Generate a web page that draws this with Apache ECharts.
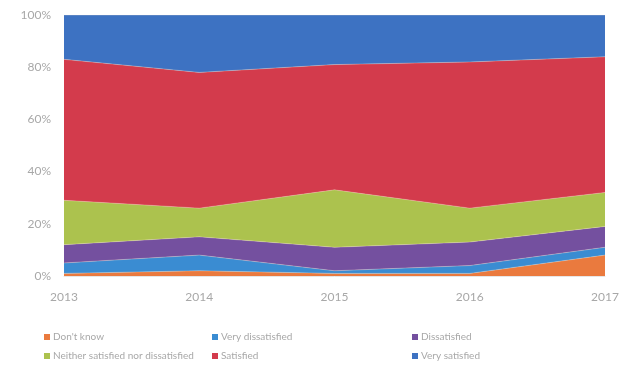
<!DOCTYPE html>
<html>
<head>
<meta charset="utf-8">
<script src="https://cdn.jsdelivr.net/npm/echarts@6/dist/echarts.min.js"></script>
<style>
  html, body { margin: 0; padding: 0; background: #fff; }
  #chart { width: 636px; height: 365px; }
</style>
</head>
<body>
<div id="chart"></div>
<script>
// Survey years
const years = ['2013', '2014', '2015', '2016', '2017'];

// Share of responses (%) per answer, stacked bottom to top
const dontKnow         = [1, 2, 1, 1, 8];
const veryDissatisfied = [4, 6, 1, 3, 3];
const dissatisfied     = [7, 7, 9, 9, 8];
const neither          = [17, 11, 22, 13, 13];
const satisfied        = [54, 52, 48, 56, 52];
const verySatisfied    = [17, 22, 19, 18, 16];

const yTicks = [0, 20, 40, 60, 80, 100];

const seriesDefs = [
  { name: "Don't know", data: dontKnow, color: '#ea7a3e' },
  { name: 'Very dissatisfied', data: veryDissatisfied, color: '#3a8cd2' },
  { name: 'Dissatisfied', data: dissatisfied, color: '#74509f' },
  { name: 'Neither satisfied nor dissatisfied', data: neither, color: '#acc24e' },
  { name: 'Satisfied', data: satisfied, color: '#d33b4c' },
  { name: 'Very satisfied', data: verySatisfied, color: '#3d72c2' }
];

const font = 'Lato, "Open Sans", sans-serif';
const textGray = '#a8a8a8';

// Legend laid out in a 3 x 2 grid
const legendPos = [
  [44, 332], [212, 332], [412, 332],
  [44, 351], [212, 351], [412, 351]
];

const chart = echarts.init(document.getElementById('chart'));
chart.setOption({
  animation: false,
  grid: { left: 64, right: 31, top: 15, bottom: 89 },
  xAxis: {
    type: 'category',
    data: years,
    boundaryGap: false,
    axisLine: { show: true, lineStyle: { color: '#e6e6e6' } },
    axisTick: { show: false },
    axisLabel: { color: textGray, fontFamily: font, fontSize: 12, margin: 15 }
  },
  yAxis: {
    type: 'value',
    min: yTicks[0],
    max: yTicks[yTicks.length - 1],
    interval: 20,
    axisLine: { show: false },
    axisTick: { show: false },
    splitLine: { show: false },
    axisLabel: { color: textGray, fontFamily: font, fontSize: 12, margin: 13, formatter: '{value}%' }
  },
  legend: seriesDefs.map((s, i) => ({
    data: [s.name],
    left: legendPos[i][0],
    top: legendPos[i][1],
    padding: 0,
    itemWidth: 6,
    itemHeight: 6,
    itemGap: 4,
    icon: 'rect',
    textStyle: { color: textGray, fontFamily: font, fontSize: 10, padding: [0, 0, 0, -2] }
  })),
  series: seriesDefs.map(s => ({
    name: s.name,
    type: 'line',
    stack: 'total',
    data: s.data,
    symbol: 'none',
    color: s.color,
    lineStyle: { width: 0.6, color: 'rgba(255,230,200,0.5)' },
    areaStyle: { color: s.color, opacity: 1 }
  }))
});
</script>
</body>
</html>
